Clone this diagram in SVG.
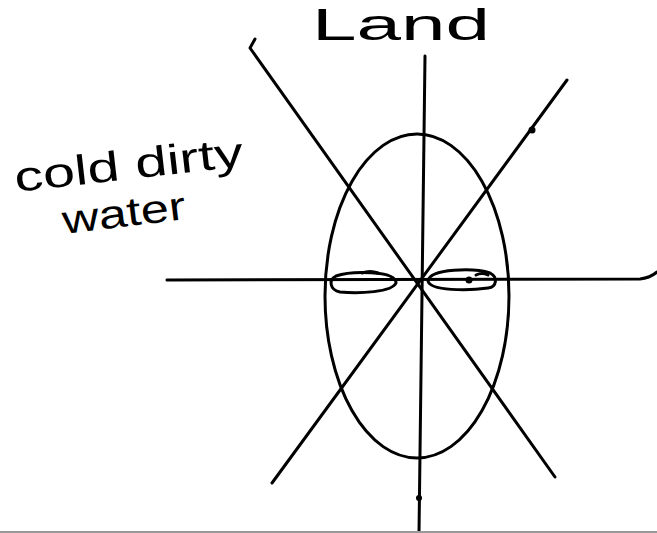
<svg xmlns="http://www.w3.org/2000/svg" width="657" height="533" viewBox="0 0 657 533">
<style>
.s{fill:none;stroke:#000;stroke-width:3;stroke-linecap:round;stroke-linejoin:round}
.t{font-family:"Liberation Sans","DejaVu Sans",sans-serif;fill:#000}
</style>
<rect width="657" height="533" fill="#fff"/>
<g id="labels">
<text class="t" x="312" y="40" font-size="44" textLength="178" lengthAdjust="spacingAndGlyphs">Land</text>
<text class="t" x="16" y="192" font-size="42" textLength="230" lengthAdjust="spacingAndGlyphs" transform="rotate(-6.5 16 192)">cold dirty</text>
<text class="t" x="64" y="234" font-size="40" textLength="124" lengthAdjust="spacingAndGlyphs" transform="rotate(-7 64 234)">water</text>
</g>
<g id="axes">
<path class="s" d="M425 56 L419 533"/>
<path class="s" d="M167 280 L640 279 Q650 278 657 272"/>
<path class="s" d="M255 39 L250 48 L555 477"/>
<path class="s" d="M272 483 L567 80"/>
</g>
<g id="ellipse">
<ellipse class="s" cx="417" cy="296" rx="92" ry="162"/>
</g>
<g id="loops">
<path class="s" d="M396 283 C396 270 350 271 336 276 C328 280 330 290 340 292 C360 294 392 292 396 283 Z"/>
<path class="s" d="M362 273 Q370 270 378 273"/>
<path class="s" d="M428 281 C430 268 475 268 490 273 C498 277 497 287 488 288 C468 291 430 291 428 281 Z"/>
<path class="s" d="M476 275 Q482 272 488 275"/>
</g>
<g id="dots">
<circle cx="469" cy="280" r="3.5"/>
<circle cx="532" cy="130" r="3.5"/>
<circle cx="419" cy="498" r="3"/>
</g>
<line x1="0" y1="532" x2="657" y2="532" stroke="#999" stroke-width="2"/>
</svg>
